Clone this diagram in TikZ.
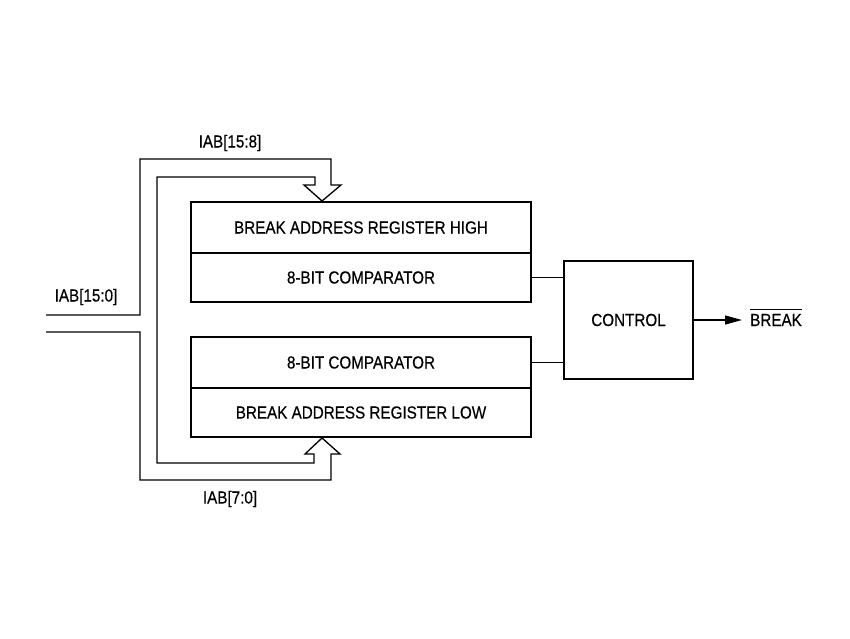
\documentclass[tikz,border=0pt]{standalone}
\usepackage{fontspec}
\setmainfont{Liberation Sans}[FakeStretch=0.87,FakeBold=0.4]
\usetikzlibrary{arrows.meta}
\begin{document}
\begin{tikzpicture}[x=1pt,y=-1pt,
  lbl/.style={font=\fontsize{17.5}{21}\selectfont, inner sep=0pt},
  blk/.style={draw, line width=2pt, minimum width=340pt, minimum height=51pt, inner sep=0pt, font=\fontsize{17.5}{21}\selectfont},
  ctrl/.style={draw, line width=2pt, minimum width=129pt, minimum height=118pt, inner sep=0pt, font=\fontsize{17.5}{21}\selectfont},
  bus/.style={line width=1.3pt, line join=miter},
  wire/.style={line width=1.3pt}]
\useasboundingbox (0,0) rectangle (850,638);
% blocks
\node[blk, minimum height=51pt] (regH) at (361,227.5) {BREAK ADDRESS REGISTER HIGH};
\node[blk, minimum height=49pt] (cmpH) at (361,277.5) {8-BIT COMPARATOR};
\node[blk, minimum height=51pt] (cmpL) at (361,362.5) {8-BIT COMPARATOR};
\node[blk, minimum height=49pt] (regL) at (361,412.5) {BREAK ADDRESS REGISTER LOW};
\node[ctrl] (ctl) at (628.5,320) {CONTROL};
% labels
\node[lbl] (l158) at (230,143) {IAB[15:8]};
\node[lbl] (l150) at (86,297) {IAB[15:0]};
\node[lbl] (l70) at (230,499) {IAB[7:0]};
\node[lbl, anchor=west] (brk) at (750,320) {BREAK};
\draw[line width=1pt] ([yshift=4pt]brk.north west) -- ([yshift=4pt]brk.north east);
% bus coordinates
\coordinate (tipH) at (322,201);
\coordinate (tipL) at (322,438);
\coordinate (inA) at (46,315);
\coordinate (inB) at (46,332);
% bus (hollow arrows to both registers)
\draw[bus] (inA) -- (140,315) -- (140,159) -- (331,159) -- (331,185) -- (341,185)
  -- (tipH) -- (304,185) -- (315,185) -- (315,177) -- (157,177) -- (157,463)
  -- (314,463) -- (314,454) -- (305,454) -- (tipL) -- (340,454) -- (331,454)
  -- (331,480) -- (140,480) -- (140,332) -- (inB);
% comparator outputs to control
\draw[wire] (cmpH.east) -- (cmpH.east -| ctl.west);
\draw[wire] (cmpL.east) -- (cmpL.east -| ctl.west);
% output
\draw[wire, -{Triangle[length=17pt,width=9pt]}] (ctl.east) -- ([xshift=-8pt]ctl.east -| brk.west);
\end{tikzpicture}
\end{document}
